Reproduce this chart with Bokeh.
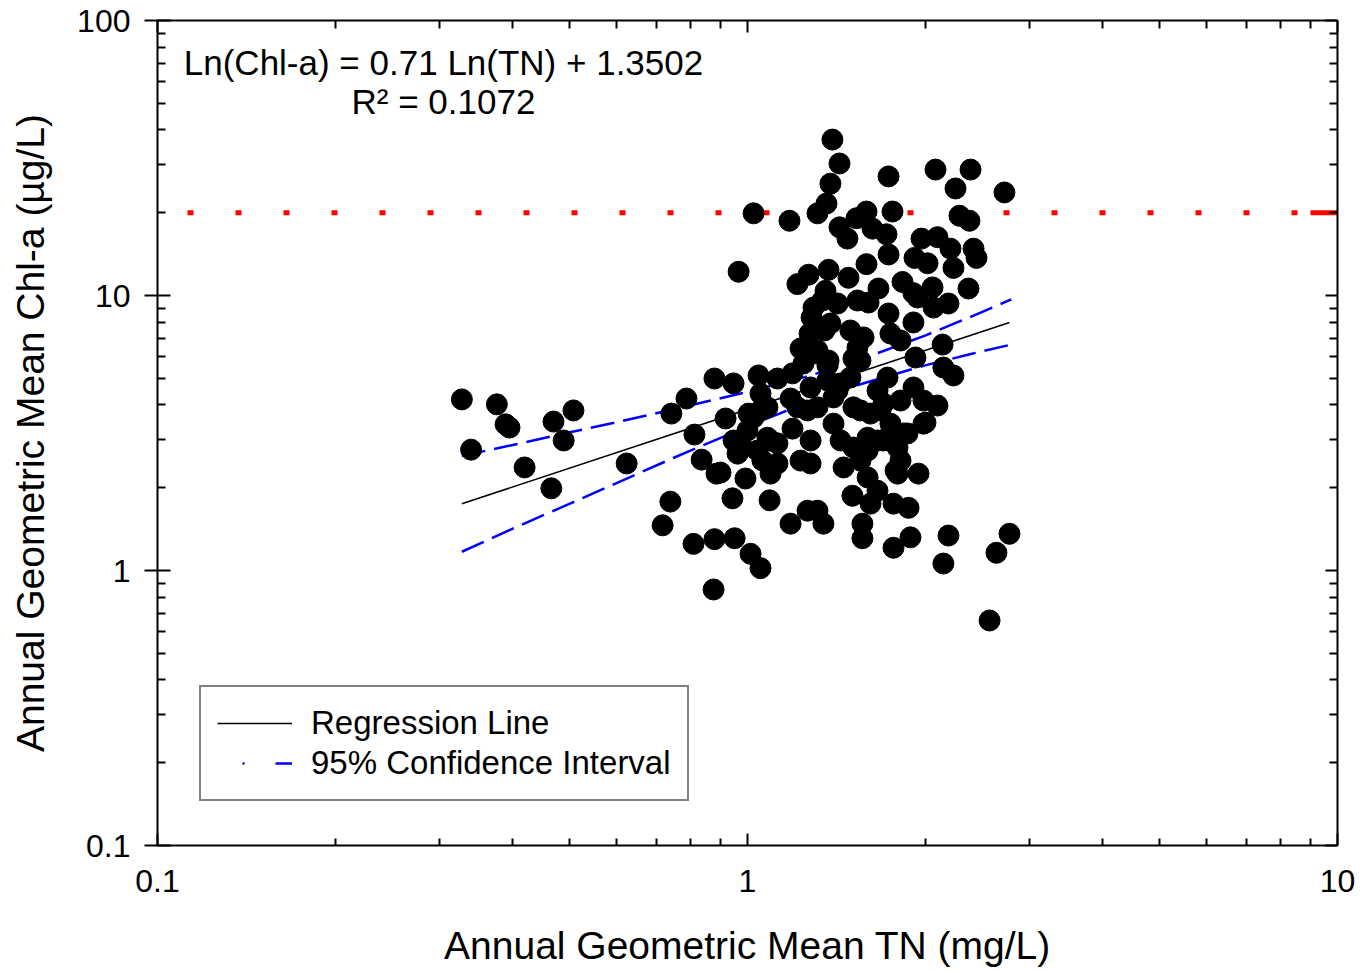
import numpy as np
from bokeh.plotting import figure
from bokeh.models import (LogAxis, FixedTicker, CustomJSTickFormatter, Label,
                          Legend, LegendItem, Range1d)
from bokeh.embed import file_html
from bokeh.resources import INLINE

# ---------------- data ----------------
tn = [
    0.328, 0.340, 0.376, 0.389, 0.395, 0.419, 0.465, 0.469, 0.488, 0.507,
    0.624, 0.743, 0.788, 0.813, 0.836, 0.886, 0.740, 0.718, 0.810, 0.879,
    0.951, 1.012, 1.052, 0.876, 0.879, 0.947, 0.966, 1.024, 1.178, 1.393,
    1.432, 1.382, 1.361, 1.314, 1.734, 2.083, 2.388, 2.252, 2.726, 1.761,
    1.591, 1.530, 1.432, 1.477, 1.629, 1.720, 1.734, 2.287, 2.378, 1.972,
    2.099, 2.208, 2.416, 2.444, 1.919, 2.019, 2.234, 1.831, 1.911, 2.059,
    2.067, 2.191, 2.369, 1.215, 1.269, 1.372, 1.483, 1.591, 1.667, 1.536,
    1.340, 1.284, 1.734, 1.911, 1.494, 1.274, 1.230, 1.350, 1.747, 1.817,
    2.141, 1.536, 1.512, 1.926, 1.372, 1.356, 1.294, 1.421, 1.382, 1.573,
    1.314, 1.604, 1.942, 2.234, 2.148, 1.044, 1.124, 1.192, 1.244, 1.279,
    1.366, 1.438, 1.494, 1.052, 1.024, 1.081, 1.000, 0.918, 1.192, 1.279,
    1.215, 1.314, 1.399, 1.512, 1.399, 1.661, 1.727, 1.616, 1.700, 1.747,
    1.081, 1.124, 0.947, 1.438, 1.598, 1.727, 1.294, 1.366, 1.554, 1.183,
    1.264, 1.421, 1.554, 1.680, 1.817, 1.911, 1.987, 2.099, 1.987, 1.512,
    1.598, 1.867, 1.661, 1.796, 0.962, 1.040, 1.094, 1.124, 1.230, 1.279,
    1.455, 1.554, 1.817, 1.796, 1.949, 0.900, 0.992, 1.094, 1.598, 0.943,
    1.090, 1.506, 1.616, 1.661, 1.768, 1.875, 1.183, 1.264, 1.314, 1.345,
    1.566, 1.566, 1.768, 1.889, 2.191, 2.148, 2.642, 2.780, 2.572, 1.004,
    1.052, 0.981, 1.060, 1.782, 2.003, 1.838, 1.700,
]
chl = [
    4.19, 2.75, 4.02, 3.40, 3.31, 2.37, 1.99, 3.48, 2.97, 3.82,
    2.45, 3.72, 4.22, 3.12, 2.53, 2.25, 1.78, 1.46, 1.25, 1.30,
    1.31, 1.15, 1.02, 0.853, 4.99, 4.79, 12.2, 19.9, 18.7, 36.9,
    30.2, 25.5, 21.6, 19.9, 27.1, 28.7, 28.7, 24.5, 23.7, 20.2,
    20.2, 19.1, 17.7, 16.1, 17.5, 16.7, 14.1, 19.5, 18.7, 16.1,
    16.3, 14.8, 14.8, 13.7, 13.7, 13.1, 12.6, 11.2, 10.2, 10.7,
    9.04, 9.35, 10.6, 11.0, 11.9, 12.4, 11.6, 13.0, 10.6, 9.59,
    9.59, 8.32, 8.60, 7.98, 7.46, 7.27, 6.42, 7.46, 7.27, 6.86,
    6.63, 6.47, 5.90, 5.95, 5.80, 10.4, 9.04, 9.35, 7.91, 7.04,
    6.31, 9.43, 9.83, 5.12, 5.47, 5.12, 4.99, 5.21, 5.66, 4.63,
    4.91, 4.79, 5.03, 4.40, 3.60, 3.92, 3.23, 3.57, 3.28, 2.97,
    3.92, 3.92, 4.26, 3.92, 3.42, 4.51, 5.03, 3.72, 4.05, 3.42,
    3.04, 2.90, 2.97, 2.97, 3.04, 3.04, 6.15, 5.57, 5.80, 4.22,
    3.82, 4.51, 3.82, 3.82, 4.15, 4.63, 4.15, 3.98, 3.42, 2.80,
    2.73, 3.15, 2.97, 2.80, 2.66, 2.73, 2.97, 2.45, 2.51, 2.45,
    2.37, 2.51, 2.51, 2.25, 2.25, 2.27, 2.16, 2.25, 2.18, 1.83,
    1.80, 1.87, 1.75, 1.95, 1.75, 1.69, 1.48, 1.65, 1.65, 1.48,
    1.48, 1.31, 1.21, 1.32, 1.34, 1.06, 1.16, 1.36, 0.658, 3.72,
    3.82, 2.80, 2.51, 2.31, 3.45, 3.15, 2.97,
]

# regression (as printed on the chart)
slope = 0.71
intercept = 1.3502
r_squared = 0.1072

# 95% confidence band
ci_tn = [0.328, 0.4, 0.5, 0.6, 0.75, 1.0, 1.25, 1.5, 2.0, 2.4, 2.8]
ci_upper = [2.61, 2.86, 3.18, 3.46, 3.86, 4.46, 5.05, 5.69, 7.15, 8.40, 9.68]
ci_lower = [1.17, 1.42, 1.75, 2.08, 2.57, 3.34, 4.05, 4.65, 5.57, 6.14, 6.63]

threshold = 20          # Chl-a threshold (µg/L)
threshold_end = [9.0, 10.0]

x_ticks = [0.1, 1, 10]
y_ticks = [0.1, 1, 10, 100]
x_tick_labels = {0.1: "0.1", 1: "1", 10: "10"}
y_tick_labels = {0.1: "0.1", 1: "1", 10: "10", 100: "100"}

eq_text = "Ln(Chl-a) = 0.71 Ln(TN) + 1.3502"
r2_text = "R² = 0.1072"
x_title = "Annual Geometric Mean TN (mg/L)"
y_title = "Annual Geometric Mean Chl-a (µg/L)"

FONT = "Liberation Sans"


def minor_ticks(lo_exp, hi_exp):
    out = []
    for e in range(lo_exp, hi_exp):
        for m in range(2, 10):
            out.append(m * 10.0 ** e)
    return out


x_minor = minor_ticks(-1, 1)
y_minor = minor_ticks(-1, 2)

# ---------------- figure ----------------
p = figure(width=1355, height=970,
           x_axis_type="log", y_axis_type="log",
           x_range=Range1d(0.1, 10), y_range=Range1d(0.1, 100),
           output_backend="svg", toolbar_location=None,
           min_border_left=157, min_border_right=18,
           min_border_top=20, min_border_bottom=125)
p.outline_line_color = None
p.grid.visible = False
p.background_fill_color = "white"


def style_axis(ax, ticks, minor, labels, major_in, major_out, minor_in):
    ax.ticker = FixedTicker(ticks=ticks, minor_ticks=minor)
    ax.axis_line_color = "black"
    ax.axis_line_width = 2
    ax.major_tick_line_color = "black"
    ax.major_tick_line_width = 2
    ax.minor_tick_line_color = "black"
    ax.minor_tick_line_width = 2
    ax.major_tick_in = major_in
    ax.major_tick_out = major_out
    ax.minor_tick_in = minor_in
    ax.minor_tick_out = 0
    if labels is not None:
        ax.major_label_overrides = labels
        ax.major_label_text_font = FONT
        ax.major_label_text_font_size = "32px"
        ax.major_label_text_color = "black"


xa = p.xaxis[0]
style_axis(xa, x_ticks, x_minor, x_tick_labels, 12, 0, 7)
xa.major_label_standoff = 24
xa.axis_label = x_title
xa.axis_label_text_font = FONT
xa.axis_label_text_font_size = "39px"
xa.axis_label_text_font_style = "normal"
xa.axis_label_text_color = "black"
xa.axis_label_standoff = 29

ya = p.yaxis[0]
style_axis(ya, y_ticks, y_minor, y_tick_labels, 13, 13, 8)
ya.major_label_standoff = 14
ya.axis_label = y_title
ya.axis_label_text_font = FONT
ya.axis_label_text_font_size = "39px"
ya.axis_label_text_font_style = "normal"
ya.axis_label_text_color = "black"
ya.axis_label_standoff = 22

blank = CustomJSTickFormatter(code="return ''")
top = LogAxis(formatter=blank, major_label_standoff=0,
              major_label_text_font_size="1px")
style_axis(top, x_ticks, x_minor, None, 12, 0, 8)
p.add_layout(top, "above")
right = LogAxis(formatter=blank, major_label_standoff=0,
                major_label_text_font_size="1px")
style_axis(right, y_ticks, y_minor, None, 12, 0, 8)
p.add_layout(right, "right")

# threshold line (dotted red) with short solid end
p.line([x_ticks[0], x_ticks[-1]], [threshold, threshold], line_color="#ff0000",
       line_width=5, line_dash="6 42", line_dash_offset=18)
p.line(threshold_end, [threshold, threshold], line_color="#ff0000", line_width=5)

# confidence band
p.line(ci_tn, ci_upper, line_color="#0000ff", line_width=2.5, line_dash="24 9")
p.line(ci_tn, ci_lower, line_color="#0000ff", line_width=2.5, line_dash="24 9")
# legend sample for the confidence band (undrawable NaN points, key only)
ci_key = p.line([np.nan, np.nan], [np.nan, np.nan], line_color="#0000ff",
                line_width=2.5, line_dash="2 31 17 25", line_dash_offset=50)

# regression line
tn_arr = np.array(tn)
reg_x = np.array([tn_arr.min(), tn_arr.max()])
reg_y = np.exp(intercept) * reg_x ** slope
reg = p.line(reg_x, reg_y, line_color="black", line_width=1.6)

# scatter points
p.scatter(tn, chl, marker="circle", size=21, fill_color="black", line_color="black")

# equation text
p.add_layout(Label(x=0.3053, y=70.4, text=eq_text, text_align="center",
                   text_baseline="middle", text_font=FONT, text_font_size="35px",
                   text_color="black"))
p.add_layout(Label(x=0.3053, y=50.9, text=r2_text, text_align="center",
                   text_baseline="middle", text_font=FONT, text_font_size="35px",
                   text_color="black"))

legend = Legend(items=[LegendItem(label="Regression Line", renderers=[reg]),
                       LegendItem(label="95% Confidence Interval", renderers=[ci_key])],
                location=(42, 44), orientation="vertical",
                border_line_color="black", border_line_width=2,
                background_fill_color="white", background_fill_alpha=1.0,
                padding=16, spacing=0, margin=0,
                glyph_width=75, glyph_height=40, label_height=40,
                label_standoff=19, label_text_font=FONT,
                label_text_font_size="33px", label_text_color="black")
p.add_layout(legend)

open("out.html", "w").write(file_html(p, INLINE))
